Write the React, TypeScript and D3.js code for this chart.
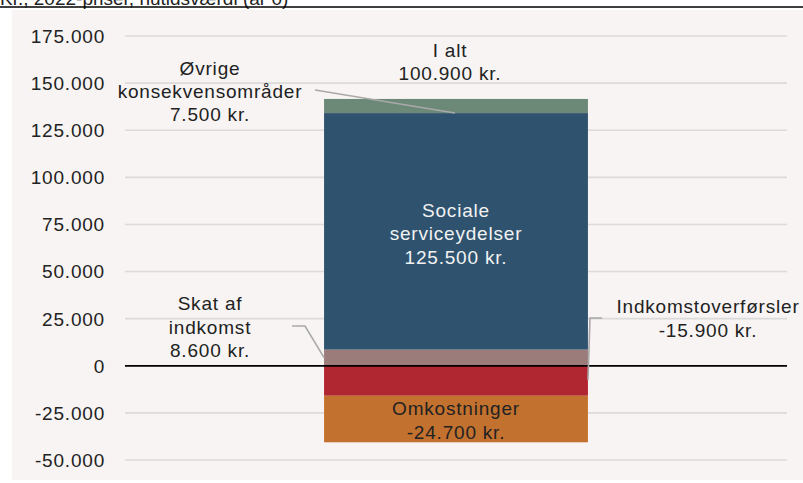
import React from 'react';
import * as d3 from 'd3';

const W = 803;
const H = 483;

// data
const category = 'I alt';
const segmentKeys = ['skat', 'sociale', 'oevrige', 'indkomst', 'omkost'];
const segmentValues = [8600, 125500, 7500, -15900, -24700];
const segmentColors = ['#9b7c7a', '#2f526f', '#6c8977', '#b12731', '#c3712f'];
const totalValue = 100900; // as printed in the chart (rounded components)
const yTicks = [-50000, -25000, 0, 25000, 50000, 75000, 100000, 125000, 150000, 175000];
const title = 'Kr., 2022-priser, nutidsværdi (år 0)';

const da = d3.formatLocale({ decimal: ',', thousands: '.', grouping: [3], currency: ['', ' kr.'], minus: '-' });
const fmt = da.format(',.0f');

const font = '"Liberation Sans", Arial, sans-serif';

const App = () => {
  const margin = { top: 36, bottom: 23, left: 125, right: 16 };

  const y = d3.scaleLinear()
    .domain([d3.min(yTicks), d3.max(yTicks)])
    .range([H - margin.bottom, margin.top]);

  const x = d3.scaleBand()
    .domain([category])
    .range([margin.left, W - margin.right])
    .padding(0.43);

  const row: any = { cat: category };
  segmentKeys.forEach((k, i) => { row[k] = segmentValues[i]; });
  const series = d3.stack().keys(segmentKeys).offset(d3.stackOffsetDiverging)([row]);

  const bx = x(category)!;
  const bw = x.bandwidth();
  const cx = bx + bw / 2;

  const lines = d3.line();

  const textBlock = (linesTxt: string[], xPos: number, baselines: number[], color = '#222') => (
    <text x={xPos} textAnchor="middle" fill={color} fontSize={19} letterSpacing={0.8} fontFamily={font}>
      {linesTxt.map((t, i) => (
        <tspan key={i} x={xPos} y={baselines[i]}>{t}</tspan>
      ))}
    </text>
  );

  return (
    <svg width={W} height={H} style={{ position: 'absolute', left: 0, top: 0, background: '#fff' }}>
      <text x={0} y={5} fontSize={19} fontFamily={font} fill="#222">{title}</text>
      <rect x={12} y={10} width={W - 12} height={470} fill="#f7f4f3" />
      <line x1={0} x2={W} y1={7} y2={7} stroke="#000" strokeWidth={1.5} />

      {yTicks.map(t => (
        <g key={t}>
          {t !== 0 && (
            <line x1={margin.left} x2={W - margin.right} y1={y(t)} y2={y(t)} stroke="#dcdada" strokeWidth={1.6} />
          )}
          <text x={105} y={y(t)} dy="0.36em" textAnchor="end" fontSize={19} letterSpacing={0.8}
            fontFamily={font} fill="#222">{fmt(t)}</text>
        </g>
      ))}

      {series.map((s, i) => (
        <rect key={s.key} x={bx} width={bw}
          y={y(s[0][1])} height={y(s[0][0]) - y(s[0][1])}
          fill={segmentColors[i]} />
      ))}

      <line x1={margin.left} x2={W - margin.right} y1={y(0)} y2={y(0)} stroke="#000" strokeWidth={1.8} />

      {/* connectors */}
      <path d={lines([[315, 90], [455, y(series[2][0][0])]])!} fill="none" stroke="#a9a9a9" strokeWidth={1.6} />
      <path d={lines([[292, 326], [305, 326], [bx, y(series[0][0][1]) + 8]])!} fill="none" stroke="#a9a9a9" strokeWidth={1.6} />
      <path d={lines([[602, 318], [590, 318], [588, y(series[3][0][0]) - 16]])!} fill="none" stroke="#a9a9a9" strokeWidth={1.6} />

      {textBlock(['I alt', fmt(totalValue) + ' kr.'], 450, [57, 80])}
      {textBlock(['Øvrige', 'konsekvensområder', fmt(segmentValues[2]) + ' kr.'], 210, [75, 98, 121])}
      {textBlock(['Sociale', 'serviceydelser', fmt(segmentValues[1]) + ' kr.'], cx, [217, 240, 264], '#f2f2f2')}
      {textBlock(['Skat af', 'indkomst', fmt(segmentValues[0]) + ' kr.'], 210, [310, 334, 357])}
      {textBlock(['Indkomstoverførsler', fmt(segmentValues[3]) + ' kr.'], 708, [313, 337])}
      {textBlock(['Omkostninger', fmt(segmentValues[4]) + ' kr.'], cx, [415, 439])}
    </svg>
  );
};

export default App;
